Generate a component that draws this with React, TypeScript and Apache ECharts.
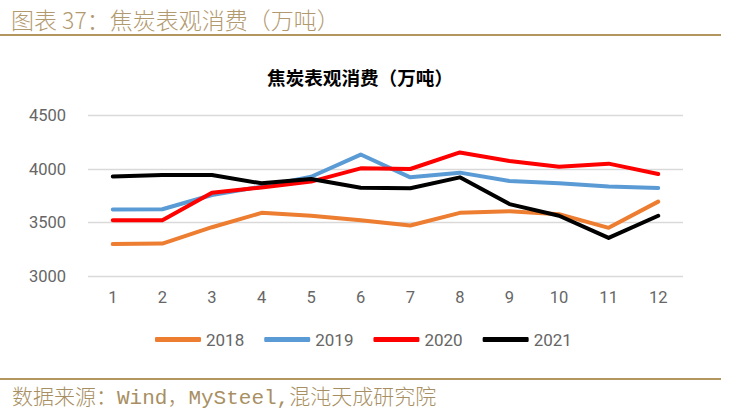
import React, { useEffect, useRef } from "react";
import * as echarts from "echarts";

const months = ["1", "2", "3", "4", "5", "6", "7", "8", "9", "10", "11", "12"];
const s2018 = [3298, 3303, 3456, 3590, 3563, 3522, 3472, 3590, 3605, 3578, 3450, 3695];
const s2019 = [3622, 3624, 3757, 3835, 3928, 4135, 3922, 3966, 3888, 3866, 3836, 3822];
const s2020 = [3522, 3522, 3778, 3828, 3882, 4006, 4000, 4155, 4075, 4022, 4050, 3953];
const s2021 = [3930, 3944, 3944, 3866, 3906, 3825, 3820, 3922, 3672, 3563, 3356, 3563];
const seriesNames = ["2018", "2019", "2020", "2021"];
const seriesColors = ["#ED7D31", "#5B9BD5", "#FF0000", "#000000"];

const headerText = "图表 37：焦炭表观消费（万吨）";
const chartTitle = "焦炭表观消费（万吨）";
const footerText = "数据来源：Wind，MySteel,混沌天成研究院";

export default function App() {
  const ref = useRef<HTMLDivElement>(null);
  useEffect(() => {
    if (!ref.current) return;
    const chart = echarts.init(ref.current, undefined, { renderer: "svg" });
    const data = [s2018, s2019, s2020, s2021];
    chart.setOption({
      animation: false,
      backgroundColor: "#ffffff",
      title: {
        text: chartTitle,
        left: 355,
        top: 62,
        textAlign: "center",
        textStyle: {
          fontFamily: "Noto Sans CJK SC",
          fontSize: 18.6,
          fontWeight: "bold",
          color: "#000000",
        },
      },
      legend: {
        left: 150,
        top: 326,
        icon: "roundRect",
        itemWidth: 46,
        itemHeight: 5,
        itemGap: 20,
        data: seriesNames,
        textStyle: {
          fontFamily: "Roboto, Lato, sans-serif",
          fontSize: 17,
          color: "#666666",
        },
      },
      grid: { left: 88, right: 55, top: 115.5, bottom: 134 },
      xAxis: {
        type: "category",
        data: months,
        boundaryGap: true,
        axisLine: { show: false },
        axisTick: { show: false },
        axisLabel: {
          color: "#666666",
          fontSize: 16.5,
          fontFamily: "Roboto, Lato, sans-serif",
          margin: 13,
        },
      },
      yAxis: {
        type: "value",
        min: 3000,
        max: 4500,
        interval: 500,
        axisLine: { show: false },
        axisTick: { show: false },
        splitLine: { lineStyle: { color: "#D9D9D9", width: 1.3 } },
        axisLabel: {
          color: "#666666",
          fontSize: 16.5,
          fontFamily: "Roboto, Lato, sans-serif",
          margin: 22,
          formatter: (v: number) => String(v),
        },
      },
      series: seriesNames.map((n, i) => ({
        name: n,
        type: "line",
        data: data[i],
        symbol: "none",
        color: seriesColors[i],
        lineStyle: { width: 4, color: seriesColors[i], cap: "round", join: "round" },
      })),
      graphic: [
        {
          type: "text",
          left: 11,
          top: 7,
          style: {
            text: headerText,
            fontFamily: "Noto Sans CJK SC",
            fontSize: 23,
            fontWeight: 300,
            fill: "#B29A70",
          },
        },
        {
          type: "rect",
          shape: { x: 0, y: 34, width: 721, height: 2 },
          style: { fill: "#B3955F" },
        },
        {
          type: "rect",
          shape: { x: 0, y: 378, width: 721, height: 2 },
          style: { fill: "#B3955F" },
        },
        {
          type: "text",
          left: 12,
          top: 388,
          style: {
            text: footerText,
            fontFamily: "Liberation Mono, Noto Sans CJK SC",
            fontSize: 21,
            fontWeight: 300,
            fill: "#A88F63",
          },
        },
      ],
    });
    return () => chart.dispose();
  }, []);
  return (
    <div style={{ position: "fixed", left: 0, top: 0, width: 738, height: 410 }}>
      <div ref={ref} style={{ width: 738, height: 410 }} />
    </div>
  );
}
